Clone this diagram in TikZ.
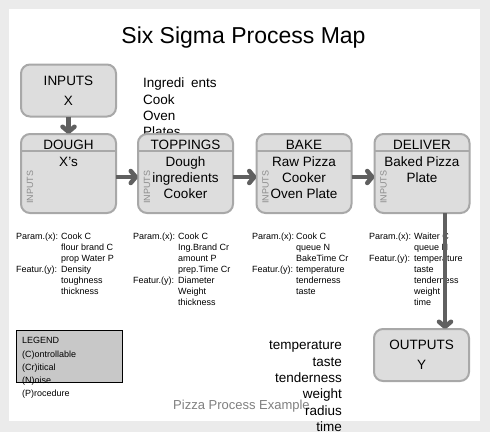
\documentclass[tikz,border=0pt]{standalone}
\usepackage{fontspec}
\setmainfont{Liberation Sans}
\usetikzlibrary{arrows.meta, positioning}
\definecolor{color_frame}{RGB}{235,235,235}
\definecolor{color_box}{RGB}{221,221,221}
\definecolor{color_line}{RGB}{168,168,168}
\definecolor{color_arrow}{RGB}{96,96,96}
\definecolor{color_legend}{RGB}{200,200,200}
\definecolor{color_side}{RGB}{140,140,140}
\definecolor{color_note}{RGB}{128,128,128}

\begin{document}
\begin{tikzpicture}[x=1pt, y=-1pt,
	stepbox/.style={draw=color_line, fill=color_box, line width=2pt, rounded corners=9pt,
		minimum width=95pt, minimum height=79pt, outer sep=0pt, inner sep=0pt},
	termbox/.style={stepbox, minimum height=52pt, align=center,
		font=\fontsize{13.5}{20}\selectfont},
	stepline/.style={draw=color_line, line width=1.2pt},
	headtext/.style={inner sep=0pt, font=\fontsize{13.5}{16}\selectfont},
	bodytext/.style={inner sep=0pt, align=center, font=\fontsize{13.5}{16}\selectfont},
	sidetext/.style={inner sep=0pt, rotate=90, text=color_side, font=\fontsize{9}{10}\selectfont},
	paramtext/.style={inner sep=0pt, anchor=north west, font=\fontsize{9}{11}\selectfont},
	flow/.style={draw=color_arrow, line width=4.5pt, -{Straight Barb[round, length=5pt, width=12pt]}}]
	\useasboundingbox (0,0) rectangle (490,432);
	% FRAME
	\fill[color_frame] (0,0) rectangle (490,432);
	\fill[white] (9,9) rectangle (480,421);
	% TITLE
	\node[font=\fontsize{23}{26}\selectfont] (title) at (243.5,38) {Six Sigma Process Map};
	% INPUT LIST
	\node[inner sep=0pt, anchor=north west, align=left, font=\fontsize{13.5}{16.3}\selectfont]
		(inlist) at (143,78) {Ingredi\enspace ents\\Cook\\Oven\\Plates};
	% PARAMETERS AND FEATURES
	\node[paramtext] (pdough) at (16,231.6) {\begin{tabular}{@{}l@{\hspace{3pt}}l@{}}
		Param.(x): & Cook C\\ & flour brand C\\ & prop Water P\\
		Featur.(y): & Density\\ & toughness\\ & thickness\end{tabular}};
	\node[paramtext] (ptoppings) at (133,231.6) {\begin{tabular}{@{}l@{\hspace{3pt}}l@{}}
		Param.(x): & Cook C\\ & Ing.Brand Cr\\ & amount P\\ & prep.Time Cr\\
		Featur.(y): & Diameter\\ & Weight\\ & thickness\end{tabular}};
	\node[paramtext] (pbake) at (252,231.6) {\begin{tabular}{@{}l@{\hspace{2pt}}l@{}}
		Param.(x): & Cook C\\ & queue N\\ & BakeTime Cr\\
		Featur.(y): & temperature\\ & tenderness\\ & taste\end{tabular}};
	\node[paramtext] (pdeliver) at (369,231.6) {\begin{tabular}{@{}l@{\hspace{3pt}}l@{}}
		Param.(x): & Waiter C\\ & queue N\\
		Featur.(y): & temperature\\ & taste\\ & tenderness\\ & weight\\ & time\end{tabular}};
	% PROCESS STEPS
	\node[termbox] (inputs) at (68.5,90.5) {INPUTS\\X};
	\foreach \name/\x/\head/\body in {dough/68.5/DOUGH/{X's},
		toppings/185.5/TOPPINGS/{Dough\\ingredients\\Cooker},
		bake/304/BAKE/{Raw Pizza\\Cooker\\Oven Plate},
		deliver/422/DELIVER/{Baked Pizza\\Plate}}
	{
		\node[stepbox] (\name) at (\x,173.5) {};
		\draw[stepline] ([yshift=-17pt]\name.north west) -- ([yshift=-17pt]\name.north east);
		\node[headtext] at ([yshift=-11pt]\name.north) {\head};
		\node[sidetext] at ([xshift=9pt,yshift=26pt]\name.south west) {INPUTS};
		\node[bodytext, anchor=north] at ([yshift=-23pt]\name.north) {\body};
	}
	\node[termbox] (outputs) at (421.5,355) {OUTPUTS\\Y};
	% ARROWS
	\draw[flow] (inputs.south) -- (dough.north);
	\draw[flow] ([yshift=-3.5pt]dough.east) -- ([yshift=-3.5pt]toppings.west);
	\draw[flow] ([yshift=-3.5pt]toppings.east) -- ([yshift=-3.5pt]bake.west);
	\draw[flow] ([yshift=-3.5pt]bake.east) -- ([yshift=-3.5pt]deliver.west);
	\draw[flow] ([xshift=23pt]deliver.south) -- ([xshift=23pt]deliver.south |- outputs.north);
	% LEGEND
	\node[draw=black, fill=color_legend, line width=0.8pt, minimum width=106pt,
		minimum height=52pt, inner sep=0pt] (legend) at (69,356) {};
	\node[inner sep=0pt, anchor=north west, align=left, font=\fontsize{9}{13.2}\selectfont]
		(legendtext) at (22,337.5) {LEGEND\\(C)ontrollable\\(Cr)itical\\(N)oise\\(P)rocedure};
	% OUTPUT LIST
	\node[inner sep=0pt, anchor=west, text=color_note, font=\fontsize{13}{15}\selectfont]
		(caption) at (173,406.5) {Pizza Process Example};
	\node[inner sep=0pt, anchor=north east, align=right, font=\fontsize{13.5}{16.3}\selectfont]
		(outlist) at (342,341) {temperature\\taste\\tenderness\\weight\\radius\\time};
\end{tikzpicture}
\end{document}
